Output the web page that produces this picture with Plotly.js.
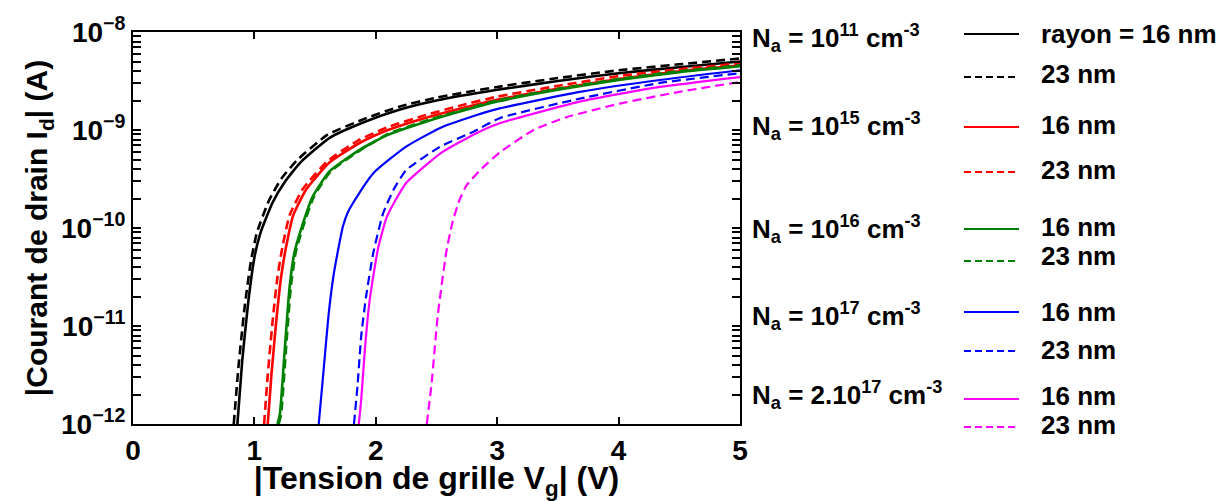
<!DOCTYPE html>
<html>
<head>
<meta charset="utf-8">
<script src="https://cdn.plot.ly/plotly-3.0.1.min.js"></script>
<style>
  html, body { margin: 0; padding: 0; background: #ffffff; }
  #chart { width: 1225px; height: 501px; }
</style>
</head>
<body>
<div id="chart"></div>
<script>
// ---------------- DATA ----------------
// Gate voltage |Vg| (V) and drain current |Id| (A) for each curve
const vg_11_16 = [0.86, 0.90, 0.95, 1.00, 1.05, 1.15, 1.25, 1.38, 1.62, 1.90, 2.20, 2.50, 3.00, 3.50, 4.00, 4.50, 5.00];
const id_11_16 = [1e-12, 4.47e-12, 1.78e-11, 5.01e-11, 8.91e-11, 1.82e-10, 2.95e-10, 4.68e-10, 8.32e-10, 1.20e-9, 1.62e-9, 2.00e-9, 2.57e-9, 3.16e-9, 3.80e-9, 4.37e-9, 5.01e-9];

const vg_11_23 = [0.83, 0.87, 0.92, 0.97, 1.02, 1.12, 1.22, 1.35, 1.60, 1.90, 2.20, 2.50, 3.00, 3.50, 4.00, 4.50, 5.00];
const id_11_23 = [1e-12, 3.98e-12, 1.58e-11, 4.47e-11, 8.91e-11, 1.91e-10, 3.16e-10, 4.90e-10, 8.91e-10, 1.29e-9, 1.74e-9, 2.14e-9, 2.75e-9, 3.39e-9, 4.07e-9, 4.68e-9, 5.37e-9];

const vg_15_16 = [1.11, 1.14, 1.18, 1.22, 1.26, 1.32, 1.43, 1.62, 1.87, 2.10, 2.40, 2.70, 3.00, 3.50, 4.00, 4.50, 5.00];
const id_15_16 = [1e-12, 3.16e-12, 1.12e-11, 3.16e-11, 6.31e-11, 1.35e-10, 2.51e-10, 4.68e-10, 7.41e-10, 1.00e-9, 1.32e-9, 1.66e-9, 2.04e-9, 2.63e-9, 3.31e-9, 3.98e-9, 4.57e-9];

const vg_15_23 = [1.08, 1.11, 1.15, 1.19, 1.23, 1.29, 1.40, 1.60, 1.85, 2.10, 2.40, 2.70, 3.00, 3.50, 4.00, 4.50, 5.00];
const id_15_23 = [1e-12, 3.16e-12, 1.12e-11, 3.16e-11, 6.31e-11, 1.35e-10, 2.51e-10, 4.79e-10, 7.76e-10, 1.07e-9, 1.41e-9, 1.78e-9, 2.19e-9, 2.82e-9, 3.55e-9, 4.17e-9, 4.79e-9];

const vg_16_16 = [1.19, 1.21, 1.25, 1.29, 1.33, 1.39, 1.48, 1.62, 1.87, 2.10, 2.40, 2.70, 3.00, 3.50, 4.00, 4.50, 5.00];
const id_16_16 = [1e-12, 1.26e-12, 5.75e-12, 2.51e-11, 5.62e-11, 1.02e-10, 2.09e-10, 3.80e-10, 6.31e-10, 8.91e-10, 1.20e-9, 1.55e-9, 1.95e-9, 2.57e-9, 3.24e-9, 3.89e-9, 4.47e-9];

const vg_16_23 = [1.20, 1.22, 1.26, 1.30, 1.34, 1.40, 1.49, 1.63, 1.88, 2.10, 2.40, 2.70, 3.00, 3.50, 4.00, 4.50, 5.00];
const id_16_23 = [1e-12, 1.26e-12, 5.75e-12, 2.51e-11, 5.62e-11, 1.02e-10, 2.09e-10, 3.80e-10, 6.31e-10, 9.12e-10, 1.23e-9, 1.58e-9, 2.00e-9, 2.63e-9, 3.31e-9, 3.98e-9, 4.57e-9];

const vg_17_16 = [1.53, 1.57, 1.61, 1.65, 1.69, 1.73, 1.77, 1.81, 1.98, 2.25, 2.53, 2.80, 3.02, 3.68, 4.34, 5.00];
const id_17_16 = [1e-12, 3.55e-12, 1.26e-11, 3.16e-11, 6.03e-11, 1.05e-10, 1.45e-10, 1.78e-10, 3.63e-10, 6.76e-10, 1.05e-9, 1.38e-9, 1.66e-9, 2.45e-9, 3.24e-9, 4.07e-9];

const vg_17_23 = [1.82, 1.85, 1.88, 1.92, 1.98, 2.06, 2.15, 2.25, 2.53, 2.80, 3.02, 3.68, 4.34, 5.00];
const id_17_23 = [1e-12, 2.51e-12, 7.94e-12, 2.00e-11, 5.62e-11, 1.41e-10, 2.51e-10, 3.89e-10, 6.76e-10, 9.55e-10, 1.32e-9, 2.09e-9, 3.02e-9, 3.80e-9];

const vg_2e17_16 = [1.86, 1.88, 1.91, 1.95, 2.02, 2.09, 2.17, 2.25, 2.53, 2.80, 3.02, 3.68, 4.34, 5.00];
const id_2e17_16 = [1e-12, 1.78e-12, 5.75e-12, 1.86e-11, 6.31e-11, 1.29e-10, 2.00e-10, 2.88e-10, 5.75e-10, 8.91e-10, 1.17e-9, 1.95e-9, 2.75e-9, 3.47e-9];

const vg_2e17_23 = [2.42, 2.46, 2.51, 2.58, 2.63, 2.69, 2.75, 2.86, 3.02, 3.30, 3.57, 4.01, 4.50, 5.00];
const id_2e17_23 = [1e-12, 2.63e-12, 1.26e-11, 5.62e-11, 1.12e-10, 1.95e-10, 2.75e-10, 3.89e-10, 5.89e-10, 1.00e-9, 1.35e-9, 1.86e-9, 2.45e-9, 3.09e-9];

// Axis tick labels
const xTickVals = [0, 1, 2, 3, 4, 5];
const xTickText = ['0', '1', '2', '3', '4', '5'];
const yDecades = [1e-12, 1e-11, 1e-10, 1e-9, 1e-8];
const yDecadeText = ['10<sup>\u221212</sup>', '10<sup>\u221211</sup>', '10<sup>\u221210</sup>', '10<sup>\u22129</sup>', '10<sup>\u22128</sup>'];

// Legend texts
const dopingLabels = [
  'N<sub>a</sub> = 10<sup>11</sup> cm<sup>-3</sup>',
  'N<sub>a</sub> = 10<sup>15</sup> cm<sup>-3</sup>',
  'N<sub>a</sub> = 10<sup>16</sup> cm<sup>-3</sup>',
  'N<sub>a</sub> = 10<sup>17</sup> cm<sup>-3</sup>',
  'N<sub>a</sub> = 2.10<sup>17</sup> cm<sup>-3</sup>'
];
const radiusLabels = ['rayon = 16 nm', '23 nm', '16 nm', '23 nm', '16 nm', '23 nm', '16 nm', '23 nm', '16 nm', '23 nm'];
const xTitle = '|Tension de grille V<sub>g</sub>| (V)';
const yTitle = '|Courant de drain I<sub>d</sub>| (A)';

// ---------------- STYLE / LAYOUT ----------------
const colors = ['#000000', '#ff0000', '#008000', '#0000ff', '#ff00ff'];
const series = [
  [vg_11_16, id_11_16, 0, 'solid'], [vg_11_23, id_11_23, 0, 'dash'],
  [vg_15_16, id_15_16, 1, 'solid'], [vg_15_23, id_15_23, 1, 'dash'],
  [vg_16_16, id_16_16, 2, 'solid'], [vg_16_23, id_16_23, 2, 'dash'],
  [vg_17_16, id_17_16, 3, 'solid'], [vg_17_23, id_17_23, 3, 'dash'],
  [vg_2e17_16, id_2e17_16, 4, 'solid'], [vg_2e17_23, id_2e17_23, 4, 'dash']
];
const FONT = 'Liberation Sans, Arial, sans-serif';
const L = 133, R = 740, T = 32, B = 424, W = 1225, H = 501;
const px2x = p => (p - L) / (R - L);
const px2y = p => (B - p) / (B - T);

const traces = series.map(s => ({
  x: s[0], y: s[1], type: 'scatter', mode: 'lines',
  line: { color: colors[s[2]], width: s[2] < 3 ? 2.6 : 2.2, dash: s[3] === 'dash' ? '9px,5px' : 'solid', shape: 'spline', smoothing: 0.5 },
  showlegend: false, hoverinfo: 'skip'
}));

// y tick positions: decades (labelled) plus 2..9 of each decade (unlabelled)
const yTickVals = [];
const yTickText = [];
yDecades.forEach((d, i) => {
  yTickVals.push(d); yTickText.push(yDecadeText[i]);
  if (i < yDecades.length - 1) for (let k = 2; k <= 9; k++) { yTickVals.push(k * d); yTickText.push(''); }
});

// legend geometry (pixels)
const dopingY = [38, 126, 229, 316, 395];
const lineY = [34, 77, 127, 172, 229, 261, 312, 351, 399, 427];
const textY = [34, 74, 125, 170, 227, 256, 312, 350, 396, 425];

const annotations = [];
const shapes = [];
dopingLabels.forEach((t, i) => annotations.push({
  xref: 'paper', yref: 'paper', x: px2x(750), y: px2y(dopingY[i]),
  xanchor: 'left', yanchor: 'middle', text: t, showarrow: false,
  font: { family: FONT, size: 26, weight: 'bold', color: '#000' }
}));
radiusLabels.forEach((t, i) => {
  annotations.push({
    xref: 'paper', yref: 'paper', x: px2x(1039), y: px2y(textY[i]),
    xanchor: 'left', yanchor: 'middle', text: t, showarrow: false,
    font: { family: FONT, size: 26, weight: 'bold', color: '#000' }
  });
  shapes.push({
    type: 'line', xref: 'paper', yref: 'paper',
    x0: px2x(964), x1: px2x(1019), y0: px2y(lineY[i]), y1: px2y(lineY[i]),
    line: { color: colors[Math.floor(i / 2)], width: 2, dash: i % 2 ? '7px,4px' : 'solid' }
  });
});

const axisCommon = {
  showline: true, linewidth: 2, linecolor: '#000000', mirror: 'ticks',
  ticks: 'inside', tickwidth: 2, tickcolor: '#000000',
  showgrid: false, zeroline: false, tickmode: 'array',
  tickfont: { family: FONT, size: 28, weight: 'bold', color: '#000' }
};

const layout = {
  width: W, height: H,
  margin: { l: L, r: W - R, t: T, b: H - B, pad: 0 },
  paper_bgcolor: '#ffffff', plot_bgcolor: '#ffffff',
  showlegend: false,
  xaxis: Object.assign({}, axisCommon, {
    range: [0, 5], tickvals: xTickVals, ticktext: xTickText, ticklen: 7,
    title: { text: xTitle, font: { family: FONT, size: 32, weight: 'bold', color: '#000' }, standoff: 4 }
  }),
  yaxis: Object.assign({}, axisCommon, {
    type: 'log', range: [-12, -8], tickvals: yTickVals, ticktext: yTickText, ticklen: 8, tickwidth: 2,
    title: { text: yTitle, font: { family: FONT, size: 30, weight: 'bold', color: '#000' }, standoff: 4 }
  }),
  annotations: annotations,
  shapes: shapes
};

Plotly.newPlot('chart', traces, layout, { displayModeBar: false, staticPlot: true });
</script>
</body>
</html>
